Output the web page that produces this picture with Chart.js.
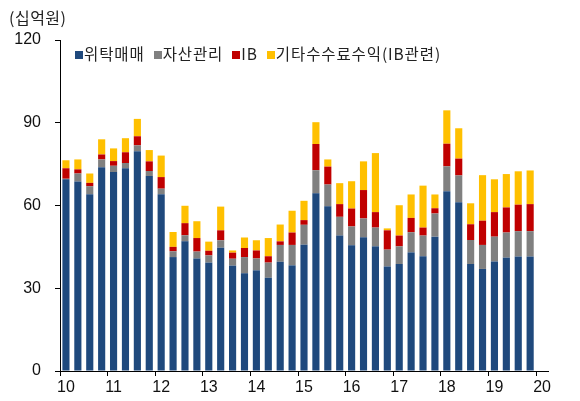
<!DOCTYPE html>
<html>
<head>
<meta charset="utf-8">
<script src="https://cdn.jsdelivr.net/npm/chart.js@4"></script>
<style>
  body { margin: 0; background: #fff; }
  #wrap { position: relative; width: 580px; height: 401px; }
  #unit { position: absolute; left: 9px; top: 5px; font: 16px "Noto Sans CJK KR", sans-serif; color: #222; letter-spacing: 0.5px; }
  #legend { position: absolute; left: 75px; top: 42px; font: 15.5px "Noto Sans CJK KR", sans-serif; color: #222; white-space: nowrap; letter-spacing: 0.9px; }
  #legend span.item { margin-right: 9px; }
  #legend i { display: inline-block; width: 8px; height: 8px; margin-right: 1px; vertical-align: 1px; }
</style>
</head>
<body>
<div id="wrap">
  <canvas id="chart" width="580" height="401"></canvas>
  <div id="unit">(십억원)</div>
  <div id="legend"></div>
</div>
<script>
// 분기 (10년 1분기 ~ 20년 1분기)
const quarters = [
  "10.1Q","10.2Q","10.3Q","10.4Q","11.1Q","11.2Q","11.3Q","11.4Q",
  "12.1Q","12.2Q","12.3Q","12.4Q","13.1Q","13.2Q","13.3Q","13.4Q",
  "14.1Q","14.2Q","14.3Q","14.4Q","15.1Q","15.2Q","15.3Q","15.4Q",
  "16.1Q","16.2Q","16.3Q","16.4Q","17.1Q","17.2Q","17.3Q","17.4Q",
  "18.1Q","18.2Q","18.3Q","18.4Q","19.1Q","19.2Q","19.3Q","19.4Q",
  "20.1Q"
];
const yearLabels = ["10","11","12","13","14","15","16","17","18","19","20"];
const yTicks = [0, 30, 60, 90, 120];

const seriesNames = ["위탁매매", "자산관리", "IB", "기타수수료수익(IB관련)"];
const seriesColors = ["#1F497D", "#808080", "#C00000", "#FFC000"];

const brokerage = [
  69.5, 68.7, 64.1, 73.9, 72.1, 73.5, 79.7, 70.7,
  64.1, 41.3, 47.0, 40.8, 39.3, 44.7, 38.2, 35.4,
  36.5, 33.8, 39.6, 38.3, 45.8, 64.4, 59.7, 49.1,
  45.6, 48.5, 45.2, 37.9, 38.8, 43.0, 41.6, 48.7,
  65.2, 61.2, 38.8, 37.0, 39.7, 41.1, 41.5, 41.5
];
const assetMgmt = [
  0.2, 2.9, 2.9, 2.8, 2.3, 1.9, 2.1, 1.8,
  2.0, 2.1, 2.2, 2.5, 2.6, 2.7, 2.5, 5.9,
  4.3, 5.5, 6.1, 7.4, 7.2, 8.4, 7.9, 6.8,
  6.8, 6.8, 6.8, 6.1, 6.4, 7.3, 7.5, 8.4,
  9.0, 9.7, 8.7, 8.7, 9.0, 9.1, 9.2, 9.2
];
const ib = [
  3.8, 1.5, 1.2, 1.8, 1.7, 3.9, 3.3, 3.5,
  4.2, 1.6, 4.4, 4.9, 1.7, 3.6, 2.2, 3.3,
  2.9, 2.3, 1.3, 4.5, 1.7, 9.5, 6.5, 4.6,
  6.5, 10.3, 5.6, 7.0, 3.9, 5.2, 2.9, 1.9,
  8.2, 6.1, 5.7, 8.8, 8.9, 9.1, 9.6, 9.8
];
const otherFees = [
  2.9, 3.6, 3.4, 5.5, 4.6, 5.1, 6.3, 4.1,
  7.8, 5.4, 6.3, 6.1, 3.3, 8.6, 0.8, 3.8,
  3.7, 6.6, 6.1, 7.9, 7.0, 7.9, 2.6, 7.6,
  9.9, 10.4, 21.4, 0.7, 11.0, 8.5, 15.2, 5.0,
  12.1, 11.0, 7.6, 16.5, 11.9, 12.1, 12.1, 12.2
];
const seriesValues = [brokerage, assetMgmt, ib, otherFees];

// 범례
const legendEl = document.getElementById("legend");
seriesNames.forEach((name, i) => {
  const item = document.createElement("span");
  item.className = "item";
  const box = document.createElement("i");
  box.style.background = seriesColors[i];
  item.appendChild(box);
  item.appendChild(document.createTextNode(name));
  legendEl.appendChild(item);
});

const axisFont = { family: "'Liberation Sans', Arial, sans-serif", size: 16 };

new Chart(document.getElementById("chart"), {
  type: "bar",
  data: {
    labels: quarters,
    datasets: seriesNames.map((name, i) => ({
      label: name,
      data: seriesValues[i],
      backgroundColor: seriesColors[i],
      borderWidth: 0,
      barPercentage: 0.6,
      categoryPercentage: 1.0
    }))
  },
  options: {
    responsive: false,
    animation: false,
    layout: { padding: { top: 40, right: 32, left: 0, bottom: 0 } },
    plugins: {
      legend: { display: false },
      tooltip: { enabled: false }
    },
    scales: {
      x: {
        stacked: true,
        offset: true,
        border: { display: true, color: "#000", width: 1 },
        grid: {
          offset: true,
          drawOnChartArea: false,
          drawTicks: true,
          tickLength: 5,
          color: (ctx) => (ctx.index % 4 === 0 ? "#000" : "rgba(0,0,0,0)")
        },
        ticks: {
          autoSkip: false,
          maxRotation: 0,
          padding: 2,
          color: "#111",
          font: axisFont,
          callback: (val, idx) => (idx % 4 === 0 ? yearLabels[idx / 4] : "")
        },
        afterFit: (scale) => { scale.height = 30; }
      },
      y: {
        stacked: true,
        min: 0,
        max: 120,
        border: { display: true, color: "#000", width: 1 },
        grid: { drawOnChartArea: false, drawTicks: true, tickLength: 5, color: "#000" },
        afterBuildTicks: (scale) => { scale.ticks = yTicks.map((v) => ({ value: v })); },
        ticks: { padding: 14, color: "#111", font: axisFont },
        afterFit: (scale) => { scale.width = 60; }
      }
    }
  }
});
</script>
</body>
</html>
